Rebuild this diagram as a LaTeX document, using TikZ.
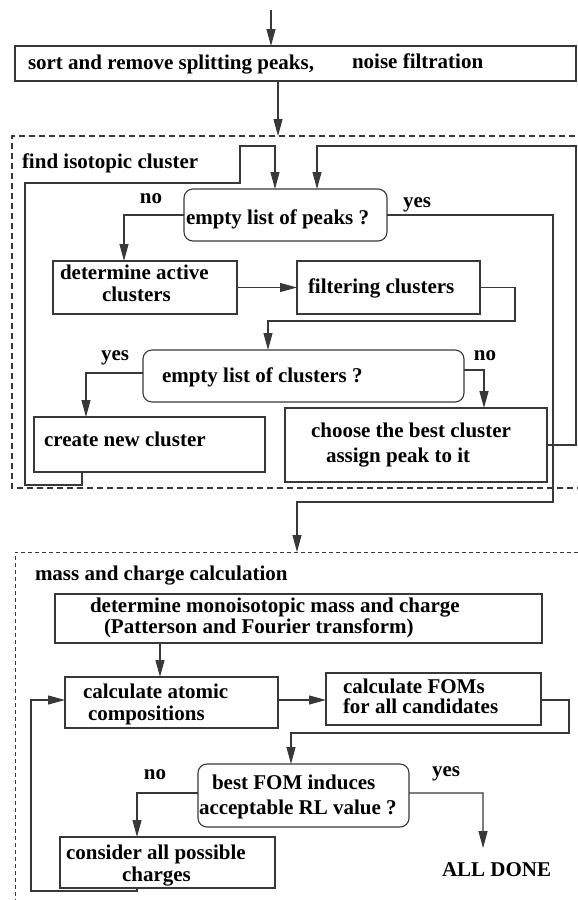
\documentclass[tikz,border=0pt]{standalone}
\usepackage{fontspec}
\setmainfont{Liberation Serif}
\usetikzlibrary{arrows.meta}
\begin{document}
\begin{tikzpicture}[x=1pt,y=-1pt,
  ln/.style={draw=black!78,line width=1.1pt},
  arr/.style={ln,-{Triangle[length=17pt,width=9pt]}},
  box/.style={draw=black!78,line width=1.1pt,inner sep=0pt,outer sep=0pt},
  rbox/.style={box,rounded corners=9pt},
  txt/.style={inner sep=0pt,outer sep=0pt,anchor=base west,font=\fontsize{21}{25}\selectfont\bfseries},
  lbl/.style={inner sep=0pt,outer sep=0pt,anchor=base,font=\fontsize{21}{25}\selectfont\bfseries}
]
\useasboundingbox (0,0) rectangle (578,900);
\clip (0,0) rectangle (578,900);

% containers
\draw[ln,dash pattern=on 6pt off 4pt] (585,136) -- (12,136) -- (12,488) -- (585,488);
\draw[ln,line width=0.9pt,dash pattern=on 4pt off 3pt] (585,552) -- (15,552) -- (15,910);

% boxes
\node[box,minimum width=561pt,minimum height=35pt] (sort) at (295.5,63.5) {};
\node[rbox,minimum width=203pt,minimum height=52pt] (peaks) at (285.5,215) {};
\node[box,minimum width=184pt,minimum height=53pt] (active) at (145,287.5) {};
\node[box,minimum width=183pt,minimum height=53pt] (filter) at (388.5,287.5) {};
\node[rbox,minimum width=321pt,minimum height=52pt] (clusters) at (303.5,376) {};
\node[box,minimum width=231pt,minimum height=55pt] (create) at (149.5,444.5) {};
\node[box,minimum width=262pt,minimum height=74pt] (choose) at (416,445) {};
\node[box,minimum width=487pt,minimum height=49pt] (mono) at (298.5,618.5) {};
\node[box,minimum width=213pt,minimum height=51pt] (calc) at (171.5,702.5) {};
\node[box,minimum width=215pt,minimum height=52pt] (fom) at (433.5,699) {};
\node[rbox,minimum width=211pt,minimum height=63pt] (best) at (303.5,795.5) {};
\node[box,minimum width=215pt,minimum height=51pt] (consider) at (167.5,862.5) {};

% texts
\node[txt] (sortA) at (28,69) {sort and remove splitting peaks,};
\node[txt] (sortB) at (352,68) {noise filtration};
\node[txt] (findL) at (22,168) {find isotopic cluster};
\node[txt] (peaksT) at (186,224) {empty list of peaks ?};
\node[lbl] (no1) at (151,203) {no};
\node[lbl] (yes1) at (417,207) {yes};
\node[txt] (activeA) at (60,279) {determine active};
\node[txt] (activeB) at (102,301) {clusters};
\node[txt] (filterT) at (308,293) {filtering clusters};
\node[txt] (clustersT) at (162,382) {empty list of clusters ?};
\node[lbl] (yes2) at (115,360) {yes};
\node[lbl] (no2) at (485,360) {no};
\node[txt] (createT) at (44,446) {create new cluster};
\node[txt] (chooseA) at (311,437) {choose the best cluster};
\node[txt] (chooseB) at (326,462) {assign peak to it};
\node[txt] (massL) at (35,580) {mass and charge calculation};
\node[txt] (monoA) at (90,612) {determine monoisotopic mass and charge};
\node[txt] (monoB) at (104,633) {(Patterson and Fourier transform)};
\node[txt] (calcA) at (83,698) {calculate atomic};
\node[txt] (calcB) at (88,720) {compositions};
\node[txt] (fomA) at (343,693) {calculate FOMs};
\node[txt] (fomB) at (343,713) {for all candidates};
\node[txt] (bestA) at (212,789) {best FOM induces};
\node[txt] (bestB) at (199,814) {acceptable RL value ?};
\node[lbl] (no3) at (155,779) {no};
\node[lbl] (yes3) at (446,776) {yes};
\node[txt] (considerA) at (66,859) {consider all possible};
\node[txt] (considerB) at (122,881) {charges};
\node[txt] (done) at (442,876) {ALL DONE};

% coordinates
\coordinate (start) at (271,10);
\coordinate (in1) at (278,136);
\coordinate (in2) at (297,552);

% connectors
\draw[arr] (start) -- ([xshift=-24.5pt]sort.north);
\draw[arr] ([xshift=-17.5pt]sort.south) -- (in1);
\draw[arr] ([xshift=-67.5pt]create.south) -- (82,485) -- (25,485) -- (25,183) -- (240,183) -- (240,146) -- (275,146) -- ([xshift=-10.5pt]peaks.north);
\draw[arr] (choose.east) -- (576,445) -- (576,146) -- (317,146) -- ([xshift=31.5pt]peaks.north);
\draw[arr] (peaks.west) -- (124,215) -- ([xshift=-21pt]active.north);
\draw[arr] (peaks.east) -- (553,215) -- (553,502) -- (297,502) -- (in2);
\draw[arr] (active.east) -- (filter.west);
\draw[arr] (filter.east) -- (515,287.5) -- (515,321) -- (268,321) -- ([xshift=-35.5pt]clusters.north);
\draw[arr] ([yshift=3pt]clusters.west) -- (86,373) -- ([xshift=-63.5pt]create.north);
\draw[arr] ([yshift=6pt]clusters.east) -- (484,370) -- ([xshift=68pt]choose.north);
\draw[arr] ([xshift=-138.5pt]mono.south) -- ([xshift=-11.5pt]calc.north);
\draw[arr] ([yshift=2.5pt]calc.east) -- ([yshift=-1pt]fom.west);
\draw[arr] ([yshift=-1pt]fom.east) -- (569,700) -- (569,733) -- (291,733) -- ([xshift=-12.5pt]best.north);
\draw[arr] ([yshift=2.5pt]best.west) -- (137,793) -- ([xshift=-30.5pt]consider.north);
\draw[arr] ([yshift=2.5pt]best.east) -- (483,793) -- ([xshift=-13.5pt,yshift=14pt]done.north);
\draw[arr] ([xshift=-30.5pt]consider.south) -- (137,891) -- (31,891) -- (31,700) -- ([yshift=2.5pt]calc.west);
\end{tikzpicture}
\end{document}
